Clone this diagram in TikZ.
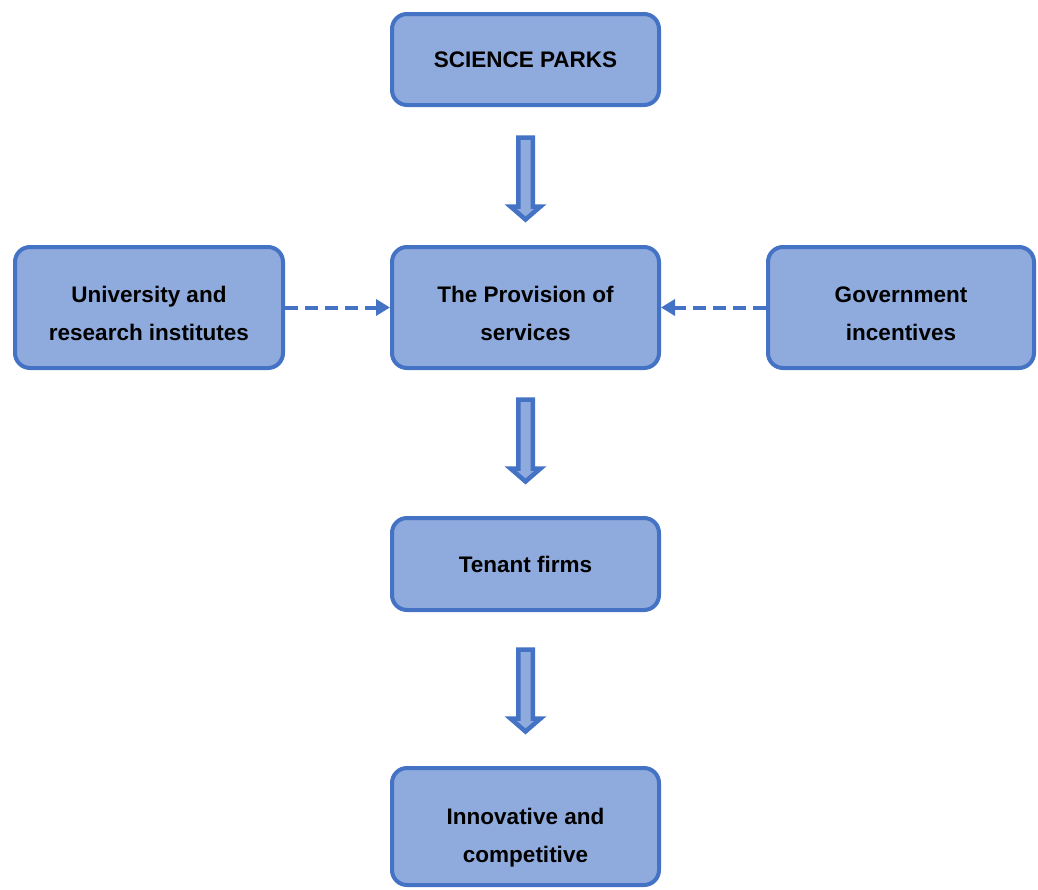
\documentclass[tikz,border=0pt]{standalone}
\usepackage{fontspec}
\setmainfont{Liberation Sans}
\usetikzlibrary{arrows.meta,calc}
\definecolor{boxline}{HTML}{4472C4}
\definecolor{boxfill}{HTML}{8FAADC}
\tikzset{
  box/.style={draw=boxline, fill=boxfill, line width=4pt, rounded corners=15pt,
    minimum width=267pt, align=center, inner sep=0pt,
    font=\fontsize{22.5pt}{38pt}\selectfont\bfseries},
  dasharrow/.style={draw=boxline, line width=4pt, dash pattern=on 13pt off 7pt,
    -{Triangle[length=14pt,width=16pt]}},
  blockarrow/.style={draw=boxline, fill=boxfill, line width=4.5pt, line join=miter},
}
% taller first line, so that the text block sits lower in its box
\newcommand{\firstlinelift}[1]{\rule{0pt}{#1}}
% hollow block arrow hanging #3 below node #1, pointing down at node #2
\newcommand{\blockdown}[3]{%
  \path let \p1=($(#1.south)+(0,#3)$), \p2=($(#2.north)$) in
    [blockarrow] (\x1-7.25pt,\y1) -- (\x1+7.25pt,\y1) -- (\x1+7.25pt,\y1-69pt)
    -- (\x1+15pt,\y1-69pt) -- (\x1,\y1-82pt) -- (\x1-15pt,\y1-69pt)
    -- (\x1-7.25pt,\y1-69pt) -- cycle;}
\begin{document}
\begin{tikzpicture}[x=1pt,y=-1pt]
\useasboundingbox (0,0) rectangle (1038,889);
\node[box, minimum height=91pt] (sp) at (525.5,59.5) {SCIENCE PARKS};
\node[box, minimum height=121pt] (prov) at (525.5,307.5) {\firstlinelift{28.5pt}The Provision of\\services};
\node[box, minimum height=121pt, minimum width=268pt] (uni) at (149,307.5) {\firstlinelift{28.5pt}University and\\research institutes};
\node[box, minimum height=121pt, minimum width=266pt] (gov) at (901,307.5) {\firstlinelift{28.5pt}Government\\incentives};
\node[box, minimum height=92pt] (ten) at (525.5,564) {Tenant firms};
\node[box, minimum height=117pt] (inn) at (525.5,826.5) {\firstlinelift{38.5pt}Innovative and\\competitive};
\blockdown{sp}{prov}{30.5}
\blockdown{prov}{ten}{29.5}
\blockdown{ten}{inn}{37.5}
\draw[dasharrow] (uni.east) -- (prov.west);
\draw[dasharrow] (gov.west) -- (prov.east);
\end{tikzpicture}
\end{document}
